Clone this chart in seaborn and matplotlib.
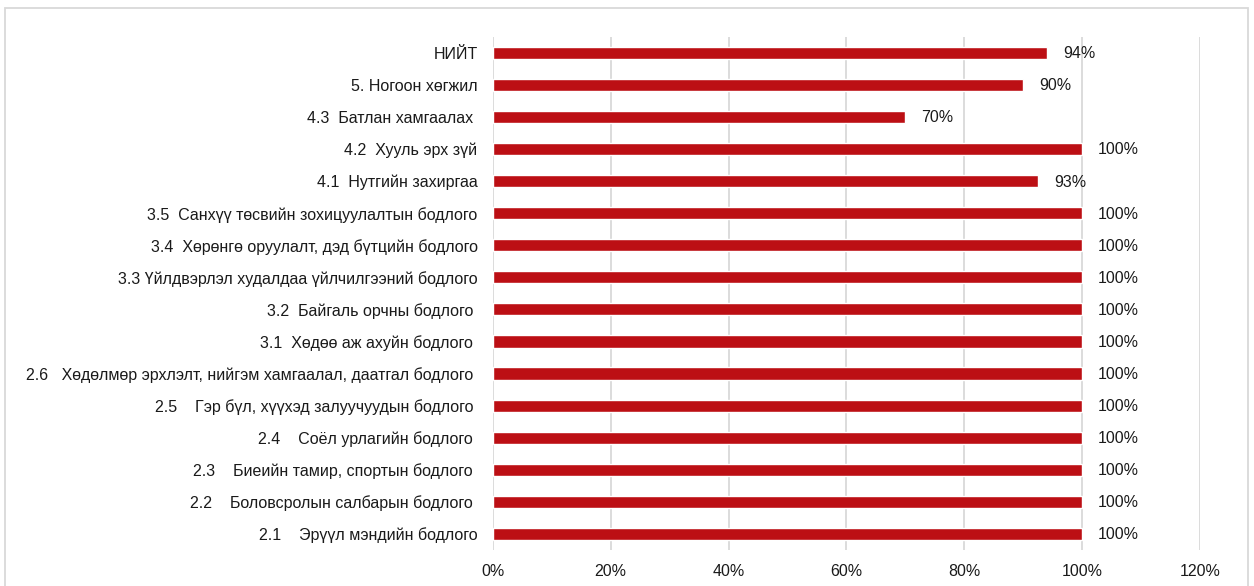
import pandas as pd
import numpy as np
import seaborn as sns
import matplotlib.pyplot as plt
from matplotlib.patches import Rectangle

labels = [
    "НИЙТ",
    "5. Ногоон хөгжил",
    "4.3  Батлан хамгаалах ",
    "4.2  Хууль эрх зүй",
    "4.1  Нутгийн захиргаа",
    "3.5  Санхүү төсвийн зохицуулалтын бодлого",
    "3.4  Хөрөнгө оруулалт, дэд бүтцийн бодлого",
    "3.3 Үйлдвэрлэл худалдаа үйлчилгээний бодлого",
    "3.2  Байгаль орчны бодлого ",
    "3.1  Хөдөө аж ахуйн бодлого ",
    "2.6   Хөдөлмөр эрхлэлт, нийгэм хамгаалал, даатгал бодлого ",
    "2.5    Гэр бүл, хүүхэд залуучуудын бодлого ",
    "2.4    Соёл урлагийн бодлого ",
    "2.3    Биеийн тамир, спортын бодлого ",
    "2.2    Боловсролын салбарын бодлого ",
    "2.1    Эрүүл мэндийн бодлого",
]
values = [0.94, 0.90, 0.70, 1.00, 0.925, 1.00, 1.00, 1.00, 1.00, 1.00, 1.00, 1.00, 1.00, 1.00, 1.00, 1.00]
value_text = ["94%", "90%", "70%", "100%", "93%", "100%", "100%", "100%", "100%", "100%",
              "100%", "100%", "100%", "100%", "100%", "100%"]

df = pd.DataFrame({"label": labels, "value": values})

sns.set_style("white")
plt.rcParams["font.family"] = ["Liberation Sans", "DejaVu Sans"]
fs = 11.5

fig = plt.figure(figsize=(12.54, 5.86), dpi=100)
ax = fig.add_axes([0.393, 0.0614, 0.564, 0.876])

sns.barplot(data=df, x="value", y="label", color="#BC0F14", width=0.38,
            saturation=1, ax=ax, zorder=3)

for i, (v, t) in enumerate(zip(values, value_text)):
    ax.annotate(t, (v, i), xytext=(16, -1), textcoords="offset pixels",
                va="center", ha="left", fontsize=fs, color="#1a1a1a")

ax.set_xlim(0, 1.2)
ax.set_ylim(15.5, -0.5)
ax.set_xticks(np.arange(0, 1.21, 0.2))
ax.set_xticklabels([f"{int(round(x * 100))}%" for x in np.arange(0, 1.21, 0.2)])
ax.grid(axis="x", color="#d9d9d9", linewidth=1.3, zorder=0)
ax.grid(axis="y", visible=False)
for s in ax.spines.values():
    s.set_visible(False)
ax.tick_params(axis="y", length=0, pad=11, labelsize=fs, labelcolor="#1a1a1a")
ax.tick_params(axis="x", length=0, pad=10, labelsize=fs, labelcolor="#1a1a1a")
ax.set_xlabel("")
ax.set_ylabel("")

# outer chart frame
fig.patches.append(Rectangle((5 / 1254, -0.01), 1243 / 1254, 1 - 8 / 586 + 0.01,
                             transform=fig.transFigure, fill=False,
                             edgecolor="#d9d9d9", linewidth=1.3))

fig.savefig("out.png", dpi=100)
